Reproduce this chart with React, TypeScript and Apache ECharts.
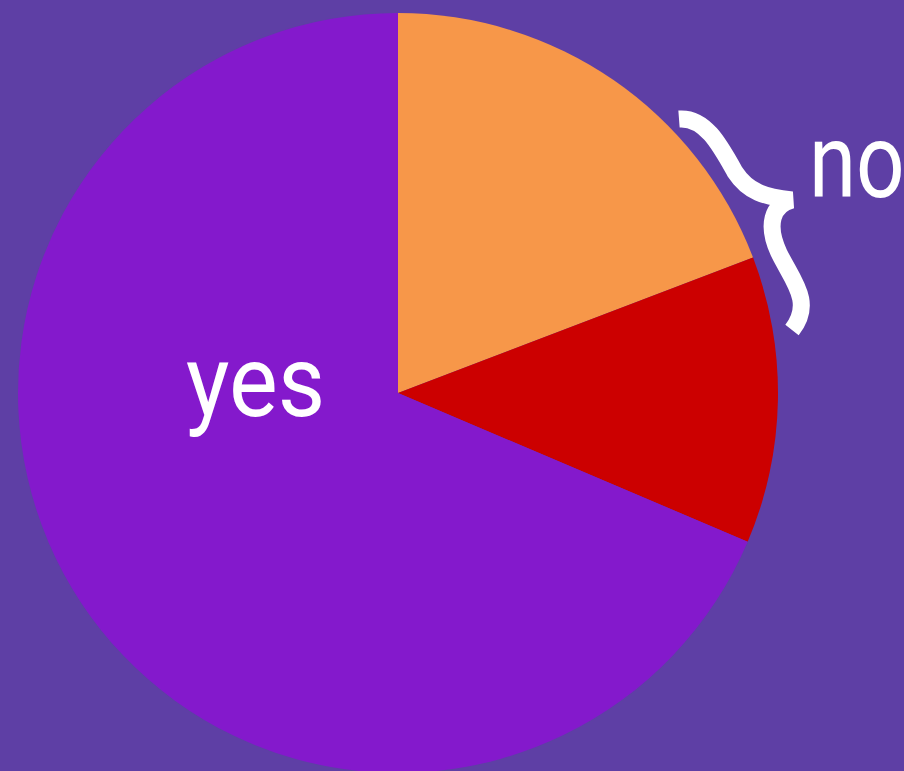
import React, { useEffect, useRef } from "react";
import * as echarts from "echarts";

const sliceNames = ["no (a)", "no (b)", "yes"];
const sliceValues = [19.2, 12.2, 68.6];
const sliceColors = ["#F79749", "#CC0000", "#8419CC"];
const labelTexts = ["yes", "no"];

const BRACE_D =
  "M 679 119 C 705 117 720 145 735 172 C 748 192 765 197 792 200 C 772 205 766 225 779 253 C 792 280 814 302 792 330";

export default function App() {
  const ref = useRef<HTMLDivElement>(null);
  useEffect(() => {
    if (!ref.current) return;
    echarts.graphic.registerShape("brace", echarts.graphic.extendPath(BRACE_D, {}) as any);
    const chart = echarts.init(ref.current, null, { renderer: "svg" });
    chart.setOption({
      animation: false,
      backgroundColor: "#5E3FA5",
      series: [
        {
          type: "pie",
          center: [398, 393],
          radius: 380,
          startAngle: 90,
          clockwise: true,
          z: 1,
          label: { show: false },
          labelLine: { show: false },
          emphasis: { disabled: true },
          itemStyle: { borderWidth: 0 },
          data: sliceNames.map((n, i) => ({
            name: n,
            value: sliceValues[i],
            itemStyle: { color: sliceColors[i] },
          })),
        },
      ],
      graphic: {
        elements: [
          {
            type: "text",
            x: 186,
            y: 382,
            z: 100,
            scaleX: 0.92,
            style: {
              text: labelTexts[0],
              fill: "#ffffff",
              font: "100px Roboto",
              align: "left",
              verticalAlign: "middle",
            },
          },
          {
            type: "text",
            x: 809,
            y: 161,
            z: 100,
            scaleX: 0.82,
            style: {
              text: labelTexts[1],
              fill: "#ffffff",
              font: "104px Roboto",
              align: "left",
              verticalAlign: "middle",
            },
          },
          {
            type: "brace",
            z: 100,
            style: {
              fill: "none",
              stroke: "#ffffff",
              lineWidth: 17,
              lineCap: "butt",
              lineJoin: "miter",
            },
          },
        ],
      },
    });
    return () => chart.dispose();
  }, []);
  return (
    <div
      ref={ref}
      style={{ position: "fixed", left: 0, top: 0, width: 904, height: 771 }}
    />
  );
}
